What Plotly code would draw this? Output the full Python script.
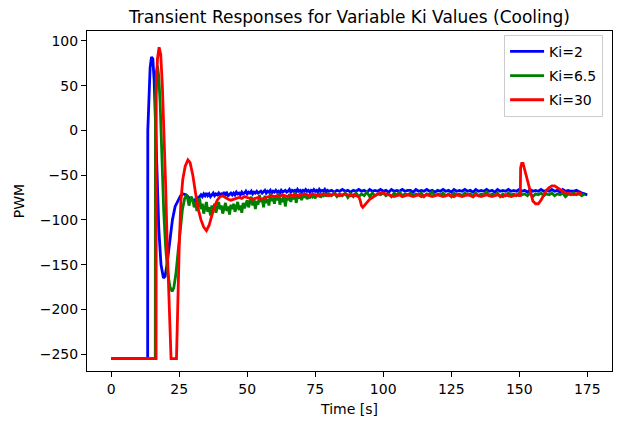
import plotly.graph_objects as go

# ---------------- data ----------------
series_names = ["Ki=2", "Ki=6.5", "Ki=30"]
x_ticks = [0, 25, 50, 75, 100, 125, 150, 175]
y_ticks = [-250, -200, -150, -100, -50, 0, 50, 100]

# Ki=2 (blue)
blue_t_transient = [0, 13.4, 13.45, 13.8, 14.3, 14.8, 15.3, 15.8, 16.3, 16.8, 17.5, 18.3, 19.2, 19.8,
                    20.5, 21.5, 22.5, 23.5, 24.5, 25.5, 26.5, 27.5, 28.5, 29.5]
blue_v_transient = [-255, -255, 0, 40, 70, 82, 80, 55, 10, -50, -110, -150, -165, -163,
                    -150, -125, -100, -85, -78, -73, -71, -72, -75, -78]
blue_t_fine = [30 + 0.5 * i for i in range(100)]
blue_v_fine = [
    -78, -80, -77, -79, -75, -74, -72, -74, -71, -73,
    -70, -73, -71, -74, -72, -70, -73, -71, -72, -70,
    -73, -71, -72, -69, -72, -70, -73, -71, -70, -72,
    -70, -72, -69, -71, -70, -72, -69, -71, -70, -68,
    -71, -69, -70, -68, -71, -69, -70, -68, -70, -69,
    -68, -70, -69, -67, -70, -68, -69, -67, -70, -68,
    -69, -67, -69, -68, -70, -67, -69, -68, -67, -69,
    -68, -66, -69, -67, -68, -67, -69, -66, -68, -67,
    -69, -67, -68, -66, -68, -67, -69, -67, -68, -66,
    -68, -67, -69, -66, -68, -67, -68, -66, -69, -67,
]
blue_t_coarse = list(range(80, 176))
blue_v_coarse = [
    -68, -67, -69, -67, -68, -66, -68, -67, -69, -67,
    -68, -66, -68, -67, -69, -66, -68, -67, -68, -66,
    -68, -67, -69, -66, -68, -67, -68, -66, -68, -67,
    -67, -69, -66, -68, -67, -68, -66, -68, -67, -69,
    -67, -68, -66, -68, -67, -69, -66, -68, -67, -68,
    -66, -68, -67, -69, -66, -68, -67, -68, -66, -68,
    -67, -69, -66, -68, -67, -68, -66, -68, -67, -68,
    -66, -68, -67, -69, -66, -68, -67, -68, -66, -68,
    -67, -68, -66, -68, -67, -69, -66, -68, -67, -68,
    -68, -67, -69, -70, -71, -72,
]

# Ki=6.5 (green)
green_t_transient = [0, 16.2, 16.25, 16.6, 17.0, 17.5, 18.0, 18.6, 19.3, 20.0, 20.8, 21.6, 22.4, 23.0,
                     23.8, 24.6, 25.4, 26.2, 27.0, 27.8, 28.6, 29.4]
green_v_transient = [-255, -255, 30, 65, 72, 60, 30, -30, -90, -130, -160, -175, -180, -176,
                     -160, -135, -108, -88, -76, -72, -84, -74]
green_t_fine = [30 + 0.5 * i for i in range(100)]
green_v_fine = [
    -78, -86, -80, -90, -83, -76, -88, -82, -93, -85,
    -80, -91, -86, -95, -84, -89, -82, -92, -87, -80,
    -88, -84, -93, -86, -81, -90, -85, -94, -83, -88,
    -82, -91, -86, -80, -89, -84, -92, -81, -87, -83,
    -78, -86, -80, -74, -84, -77, -88, -79, -83, -72,
    -80, -76, -86, -73, -81, -77, -84, -70, -79, -75,
    -82, -74, -78, -70, -83, -76, -80, -72, -85, -75,
    -78, -71, -80, -74, -77, -69, -81, -73, -76, -70,
    -78, -72, -75, -70, -77, -73, -76, -71, -74, -72,
    -76, -71, -74, -70, -75, -72, -73, -70, -74, -71,
]
green_t_coarse = list(range(80, 175))
green_v_coarse = [
    -71, -73, -70, -74, -71, -73, -70, -75, -71, -74,
    -70, -74, -71, -73, -69, -74, -70, -73, -71, -72,
    -70, -73, -71, -74, -70, -72, -69, -73, -71, -72,
    -70, -73, -71, -72, -70, -74, -71, -72, -69, -73,
    -71, -72, -70, -73, -71, -74, -70, -72, -71, -73,
    -70, -72, -71, -74, -70, -73, -71, -72, -69, -73,
    -71, -72, -70, -74, -71, -73, -70, -72, -71, -73,
    -70, -72, -71, -73, -70, -74, -71, -72, -70, -73,
    -71, -72, -70, -73, -71, -72, -70, -74, -71, -72,
    -70, -72, -71, -73, -71,
]

# Ki=30 (red)
red_t = [0, 16.5, 16.55, 17.0, 17.6, 18.2, 18.8, 19.4, 20.0, 20.6, 21.2, 21.6, 22.0, 24.0,
         24.4, 25.0, 25.6, 26.3, 27.2, 28.2, 29.0, 30.0, 31.0, 32.0, 33.0, 34.0, 35.0, 36.0,
         37.0, 38.0, 39.0] + list(range(40, 91)) + [
         91, 91.5, 92, 92.5, 93, 94, 95, 96, 97, 98, 99, 100, 101] + list(range(102, 151)) + [
         150.4, 150.5, 150.9, 151.4, 152, 153, 154, 155, 156, 157, 158, 159, 160, 161, 162,
         163, 164, 165, 166, 167, 168, 169, 170, 171, 172, 173]
red_v = [-255, -255, 40, 80, 93, 85, 50, 0, -60, -130, -190, -230, -255, -255,
         -200, -130, -80, -55, -40, -33, -36, -50, -70, -88, -100, -108, -112, -106,
         -95, -85, -78,
         -74, -73, -75, -77, -78, -77, -76, -75, -76, -74,
         -75, -76, -77, -76, -75, -77, -76, -75, -74, -73,
         -74, -73, -74, -72, -73, -74, -72, -73, -72, -73,
         -72, -71, -72, -73, -71, -72, -73, -72, -71, -72,
         -73, -72, -71, -72, -73, -72, -71, -72, -73, -72,
         -73,
         -74, -78, -84, -86, -84, -80, -77, -75, -73, -71, -70, -70, -71,
         -72, -73, -74, -73, -72, -74, -73, -72, -73, -74,
         -73, -72, -74, -73, -72, -73, -74, -73, -72, -73,
         -74, -73, -72, -73, -74, -72, -73, -74, -73, -72,
         -73, -74, -72, -73, -74, -73, -72, -73, -74, -73,
         -72, -73, -74, -72, -73, -74, -73, -72, -73,
         -73, -42, -37, -37, -44, -58, -70, -79, -82, -82, -78, -72, -67, -64, -62,
         -62, -64, -67, -69, -70, -70, -71, -72, -71, -70, -71]

# ---------------- figure ----------------
fig = go.Figure()
line_w = 2.8
fig.add_trace(go.Scatter(x=blue_t_transient + blue_t_fine + blue_t_coarse,
                         y=blue_v_transient + blue_v_fine + blue_v_coarse,
                         mode="lines", name=series_names[0], legendgroup="a",
                         line=dict(color="#0000ff", width=line_w)))
fig.add_trace(go.Scatter(x=green_t_transient + green_t_fine + green_t_coarse,
                         y=green_v_transient + green_v_fine + green_v_coarse,
                         mode="lines", name=series_names[1], legendgroup="b",
                         line=dict(color="#008000", width=line_w)))
fig.add_trace(go.Scatter(x=red_t, y=red_v, mode="lines", name=series_names[2], legendgroup="c",
                         line=dict(color="#ff0000", width=line_w)))

font_family = "DejaVu Sans"
axis_common = dict(showline=True, linecolor="black", linewidth=1.1, mirror=True,
                   ticks="outside", ticklen=5, tickwidth=1.1, tickcolor="black",
                   showgrid=False, zeroline=False,
                   tickfont=dict(family=font_family, size=14, color="black"))

fig.update_layout(
    width=621, height=423,
    margin=dict(l=87, r=8, t=31, b=50),
    paper_bgcolor="white", plot_bgcolor="white",
    font=dict(family=font_family, size=14, color="black"),
    title=dict(text="Transient Responses for Variable Ki Values (Cooling)",
               x=0.5, xref="paper", xanchor="center", y=1, yref="paper", yanchor="bottom",
               pad=dict(b=8), font=dict(family=font_family, size=17, color="black")),
    xaxis=dict(range=[-8.9, 184.1], tickvals=x_ticks,
               title=dict(text="Time [s]", standoff=8, font=dict(family=font_family, size=14)),
               **axis_common),
    yaxis=dict(range=[-268.9, 111.1], tickvals=y_ticks,
               title=dict(text="PWM", standoff=11, font=dict(family=font_family, size=14)),
               **axis_common),
    legend=dict(x=0.983, xanchor="right", y=0.989, yanchor="top",
                bgcolor="rgba(255,255,255,0.8)", bordercolor="#cccccc", borderwidth=1,
                font=dict(family=font_family, size=14), tracegroupgap=3,
                traceorder="grouped", itemwidth=34),
    showlegend=True,
)

fig.write_html("out.html", config={"displayModeBar": False},
               post_script="document.body.style.margin='0px';")
